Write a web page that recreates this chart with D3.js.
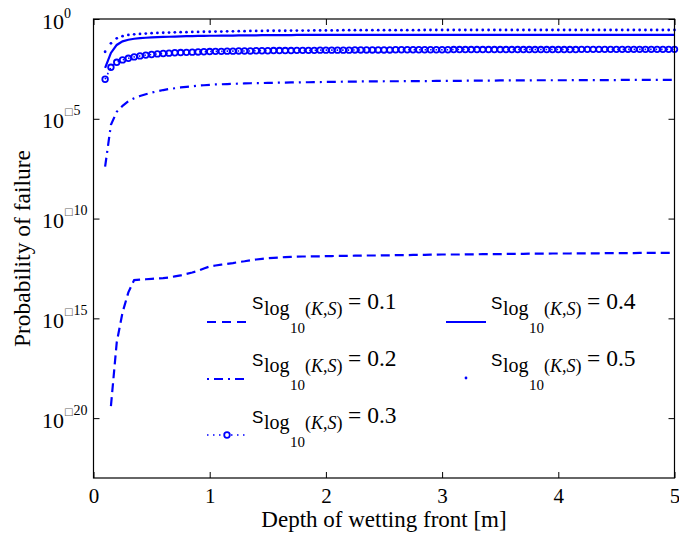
<!DOCTYPE html>
<html>
<head>
<meta charset="utf-8">
<script src="https://cdn.jsdelivr.net/npm/d3@7"></script>
<style>
  html, body { margin: 0; padding: 0; background: #fff; }
  svg { display: block; }
  .serif { font-family: "Liberation Serif", "DejaVu Serif", serif; }
  .sans { font-family: "Liberation Sans", "DejaVu Sans", sans-serif; }
  .glyphbox { font-family: "DejaVu Sans", sans-serif; }
</style>
</head>
<body>
<svg id="chart" width="679" height="537"></svg>
<script>
// Depth grid of the wetting front [m], 0.10 to 5.00 in 0.05 m steps
const depth = d3.range(10, 501, 5).map(v => v / 100);

// log10 of the probability of failure for each standard deviation of log10(K,S)
const logPf01 = [null, -19.4, -16.2, -14.7, -13.7, -13.08, -13.06, -13.04, -13.02, -13.0,
  -12.98, -12.95, -12.9, -12.85, -12.77, -12.7, -12.62, -12.5, -12.4, -12.35,
  -12.31, -12.27, -12.23, -12.18, -12.14, -12.09, -12.05, -12.02, -11.99, -11.97,
  -11.95, -11.93, -11.92, -11.91, -11.9, -11.9, -11.89, -11.89, -11.88, -11.88,
  -11.87, -11.87, -11.87, -11.86, -11.86, -11.85, -11.85, -11.85, -11.84, -11.84,
  -11.83, -11.83, -11.83, -11.82, -11.82, -11.82, -11.81, -11.81, -11.8, -11.8,
  -11.8, -11.8, -11.79, -11.79, -11.79, -11.78, -11.78, -11.78, -11.78, -11.77,
  -11.77, -11.77, -11.77, -11.76, -11.76, -11.76, -11.76, -11.75, -11.75, -11.75,
  -11.75, -11.74, -11.74, -11.74, -11.74, -11.74, -11.73, -11.73, -11.73, -11.73,
  -11.73, -11.73, -11.72, -11.72, -11.72, -11.72, -11.72, -11.72, -11.72];

const logPf02 = [-7.4, -5.3, -4.65, -4.35, -4.12, -3.97, -3.86, -3.77, -3.69, -3.62,
  -3.56, -3.51, -3.47, -3.43, -3.4, -3.37, -3.34, -3.32, -3.3, -3.28,
  -3.27, -3.26, -3.25, -3.24, -3.23, -3.22, -3.21, -3.21, -3.2, -3.2,
  -3.19, -3.19, -3.18, -3.18, -3.17, -3.17, -3.16, -3.16, -3.15, -3.15,
  -3.15, -3.14, -3.14, -3.14, -3.13, -3.13, -3.13, -3.13, -3.12, -3.12,
  -3.12, -3.12, -3.11, -3.11, -3.11, -3.11, -3.11, -3.1, -3.1, -3.1,
  -3.1, -3.1, -3.09, -3.09, -3.09, -3.09, -3.09, -3.09, -3.08, -3.08,
  -3.08, -3.08, -3.08, -3.08, -3.07, -3.07, -3.07, -3.07, -3.07, -3.07,
  -3.07, -3.06, -3.06, -3.06, -3.06, -3.06, -3.06, -3.06, -3.06, -3.05,
  -3.05, -3.05, -3.05, -3.05, -3.05, -3.05, -3.05, -3.05, -3.05];

const logPf03 = [-3.02, -2.42, -2.17, -2.05, -1.97, -1.9, -1.85, -1.81, -1.78, -1.75,
  -1.73, -1.71, -1.69, -1.68, -1.67, -1.66, -1.65, -1.64, -1.63, -1.62,
  -1.62, -1.61, -1.61, -1.6, -1.6, -1.6, -1.59, -1.59, -1.59, -1.58,
  -1.58, -1.58, -1.58, -1.57, -1.57, -1.57, -1.57, -1.56, -1.56, -1.56,
  -1.56, -1.56, -1.56, -1.55, -1.55, -1.55, -1.55, -1.55, -1.55, -1.55,
  -1.54, -1.54, -1.54, -1.54, -1.54, -1.54, -1.54, -1.54, -1.54, -1.54,
  -1.53, -1.53, -1.53, -1.53, -1.53, -1.53, -1.53, -1.53, -1.53, -1.53,
  -1.53, -1.53, -1.53, -1.53, -1.53, -1.53, -1.53, -1.53, -1.53, -1.53,
  -1.53, -1.53, -1.52, -1.52, -1.52, -1.52, -1.52, -1.52, -1.52, -1.52,
  -1.52, -1.52, -1.52, -1.52, -1.52, -1.52, -1.52, -1.52, -1.52];

const logPf04 = [-2.45, -1.7, -1.3, -1.12, -1.04, -0.99, -0.96, -0.94, -0.92, -0.91,
  -0.9, -0.89, -0.88, -0.87, -0.86, -0.86, -0.85, -0.85, -0.84, -0.84,
  -0.83, -0.83, -0.83, -0.82, -0.82, -0.82, -0.82, -0.81, -0.81, -0.81,
  -0.81, -0.81, -0.81, -0.8, -0.8, -0.8, -0.8, -0.8, -0.8, -0.8,
  -0.8, -0.8, -0.8, -0.8, -0.8, -0.8, -0.8, -0.8, -0.8, -0.8,
  -0.8, -0.8, -0.8, -0.8, -0.8, -0.8, -0.8, -0.8, -0.8, -0.8,
  -0.8, -0.8, -0.8, -0.8, -0.8, -0.8, -0.8, -0.8, -0.8, -0.8,
  -0.8, -0.8, -0.8, -0.8, -0.8, -0.8, -0.8, -0.8, -0.8, -0.8,
  -0.8, -0.8, -0.8, -0.8, -0.8, -0.8, -0.8, -0.8, -0.8, -0.8,
  -0.8, -0.8, -0.8, -0.8, -0.8, -0.8, -0.8, -0.8, -0.8];

const logPf05 = [-1.64, -1.22, -0.97, -0.86, -0.8, -0.77, -0.75, -0.73, -0.71, -0.7,
  -0.69, -0.68, -0.67, -0.66, -0.66, -0.65, -0.65, -0.64, -0.64, -0.63,
  -0.63, -0.62, -0.62, -0.61, -0.61, -0.6, -0.6, -0.6, -0.59, -0.59,
  -0.59, -0.59, -0.58, -0.58, -0.58, -0.58, -0.57, -0.57, -0.57, -0.57,
  -0.57, -0.56, -0.56, -0.56, -0.56, -0.56, -0.56, -0.56, -0.56, -0.56,
  -0.56, -0.56, -0.56, -0.56, -0.56, -0.55, -0.55, -0.55, -0.55, -0.55,
  -0.55, -0.55, -0.55, -0.55, -0.55, -0.55, -0.55, -0.55, -0.55, -0.55,
  -0.55, -0.55, -0.55, -0.55, -0.55, -0.55, -0.55, -0.55, -0.55, -0.55,
  -0.55, -0.55, -0.55, -0.55, -0.55, -0.55, -0.55, -0.55, -0.55, -0.55,
  -0.55, -0.55, -0.55, -0.55, -0.55, -0.55, -0.55, -0.55, -0.55];

const sigmaLabels = ["0.1", "0.2", "0.3", "0.4", "0.5"];
const xTicks = [0, 1, 2, 3, 4, 5];
const yTickExponents = [0, -5, -10, -15, -20];

const BLUE = "#0000ff";

const svg = d3.select("#chart");
const plotLeft = 93.5, plotRight = 674.5, plotTop = 19, plotBottom = 478;

const x = d3.scaleLinear().domain([0, 5]).range([plotLeft, plotRight]);
const y = d3.scaleLog().domain([1e-23, 1]).range([plotBottom, plotTop]);

const toPoints = arr => depth.map((d, i) => ({ d, p: arr[i] == null ? null : Math.pow(10, arr[i]) }));

const line = d3.line()
  .defined(v => v.p != null)
  .x(v => x(v.d))
  .y(v => y(v.p));

svg.append("rect").attr("width", 679).attr("height", 537).attr("fill", "#fff");

// Series
const plot = svg.append("g");

plot.append("path").datum(toPoints(logPf01))
  .attr("d", line).attr("fill", "none").attr("stroke", BLUE)
  .attr("stroke-width", 2.2).attr("stroke-dasharray", "9,5");

plot.append("path").datum(toPoints(logPf02))
  .attr("d", line).attr("fill", "none").attr("stroke", BLUE)
  .attr("stroke-width", 2.2).attr("stroke-dasharray", "9,5,2,5");

plot.append("path").datum(toPoints(logPf03))
  .attr("d", line).attr("fill", "none").attr("stroke", BLUE)
  .attr("stroke-width", 1.6).attr("stroke-dasharray", "1.5,4");

plot.append("g").selectAll("circle").data(toPoints(logPf03)).join("circle")
  .attr("cx", v => x(v.d)).attr("cy", v => y(v.p)).attr("r", 2.8)
  .attr("fill", "none").attr("stroke", BLUE).attr("stroke-width", 1.8);

plot.append("path").datum(toPoints(logPf04))
  .attr("d", line).attr("fill", "none").attr("stroke", BLUE)
  .attr("stroke-width", 2.2);

plot.append("g").selectAll("circle").data(toPoints(logPf05)).join("circle")
  .attr("cx", v => x(v.d)).attr("cy", v => y(v.p)).attr("r", 1.4)
  .attr("fill", BLUE);

// Frame and inward ticks on all sides
svg.append("rect")
  .attr("x", plotLeft).attr("y", plotTop)
  .attr("width", plotRight - plotLeft).attr("height", plotBottom - plotTop)
  .attr("fill", "none").attr("stroke", "#000").attr("stroke-width", 1.2);

function styleAxis(g) {
  g.select(".domain").remove();
  g.attr("font-family", null).attr("font-size", null);
  g.selectAll(".tick line").attr("stroke", "#000").attr("stroke-width", 1);
}

const yTickValues = yTickExponents.map(e => Math.pow(10, e));

svg.append("g").attr("transform", `translate(0,${plotBottom})`)
  .call(d3.axisBottom(x).tickValues(xTicks).tickSizeInner(-6).tickSizeOuter(0).tickFormat(d3.format("d")))
  .call(styleAxis)
  .call(g => g.selectAll(".tick text")
    .attr("class", "serif")
    .attr("y", 24.5).attr("dy", null)
    .style("font-size", "21px").attr("fill", "#000"));

svg.append("g").attr("transform", `translate(0,${plotTop})`)
  .call(d3.axisTop(x).tickValues(xTicks).tickSizeInner(-6).tickSizeOuter(0).tickFormat(""))
  .call(styleAxis);

svg.append("g").attr("transform", `translate(${plotLeft},0)`)
  .call(d3.axisLeft(y).tickValues(yTickValues).tickSizeInner(-6).tickSizeOuter(0).tickFormat(""))
  .call(styleAxis);

svg.append("g").attr("transform", `translate(${plotRight},0)`)
  .call(d3.axisRight(y).tickValues(yTickValues).tickSizeInner(-6).tickSizeOuter(0).tickFormat(""))
  .call(styleAxis);

// Power-of-ten tick labels
const yLabels = svg.append("g");
yTickExponents.forEach(e => {
  const t = yLabels.append("text")
    .attr("class", "serif")
    .attr("x", 42).attr("y", y(Math.pow(10, e)) + 9.5)
    .style("font-size", "22px").attr("fill", "#000");
  t.append("tspan").text("10");
  if (e < 0) {
    t.append("tspan").attr("class", "glyphbox").attr("dy", -13)
      .style("font-size", "10px").attr("fill", "#666").text("\u25A1");
    t.append("tspan").style("font-size", "14px").text(String(-e));
  } else {
    t.append("tspan").attr("dy", -11).style("font-size", "14px").text(String(e));
  }
});

// Axis titles
svg.append("text")
  .attr("class", "serif")
  .attr("transform", `translate(30,${(plotTop + plotBottom) / 2}) rotate(-90)`)
  .attr("text-anchor", "middle")
  .style("font-size", "23.5px").attr("fill", "#000")
  .text("Probability of failure");

svg.append("text")
  .attr("class", "serif")
  .attr("x", (plotLeft + plotRight) / 2).attr("y", 527)
  .attr("text-anchor", "middle")
  .style("font-size", "23px").attr("fill", "#000")
  .text("Depth of wetting front [m]");

// Legend
const legendPos = [
  { col: 207, base: 309 },
  { col: 207, base: 366 },
  { col: 207, base: 423 },
  { col: 446, base: 309 },
  { col: 446, base: 366 }
];
const legend = svg.append("g");
const sampleLen = 40;

legendPos.forEach((pos, i) => {
  const ly = pos.base + 13;
  const x0 = pos.col, x1 = pos.col + sampleLen;
  if (i === 0) {
    legend.append("line").attr("x1", x0).attr("x2", x1).attr("y1", ly).attr("y2", ly)
      .attr("stroke", BLUE).attr("stroke-width", 2.2).attr("stroke-dasharray", "9,6");
  } else if (i === 1) {
    legend.append("line").attr("x1", x0).attr("x2", x1).attr("y1", ly).attr("y2", ly)
      .attr("stroke", BLUE).attr("stroke-width", 2.2).attr("stroke-dasharray", "2,5,9,5");
  } else if (i === 2) {
    legend.append("line").attr("x1", x0).attr("x2", x1).attr("y1", ly - 1).attr("y2", ly - 1)
      .attr("stroke", BLUE).attr("stroke-width", 1.6).attr("stroke-dasharray", "1.5,4.5");
    legend.append("circle").attr("cx", (x0 + x1) / 2).attr("cy", ly - 1).attr("r", 2.8)
      .attr("fill", "#fff").attr("stroke", BLUE).attr("stroke-width", 1.8);
  } else if (i === 3) {
    legend.append("line").attr("x1", x0).attr("x2", x1).attr("y1", ly).attr("y2", ly)
      .attr("stroke", BLUE).attr("stroke-width", 2.2);
  } else {
    legend.append("circle").attr("cx", (x0 + x1) / 2).attr("cy", ly - 1).attr("r", 1.4)
      .attr("fill", BLUE);
  }

  const tx = x1 + 5;
  const t = legend.append("text")
    .attr("class", "serif")
    .attr("x", tx).attr("y", pos.base)
    .style("font-size", "23.5px").attr("fill", "#000");
  t.append("tspan").attr("class", "sans").style("font-size", "17px").text("S");
  t.append("tspan").attr("x", tx + 12).attr("dy", 6).style("font-size", "20px").text("log");
  t.append("tspan").attr("x", tx + 38).attr("dy", 18).style("font-size", "15px").text("10");
  t.append("tspan").attr("x", tx + 53).attr("dy", -18).style("font-size", "18px").text("(");
  t.append("tspan").style("font-size", "18px").style("font-style", "italic").text("K");
  t.append("tspan").style("font-size", "18px").text(",");
  t.append("tspan").style("font-size", "18px").style("font-style", "italic").text("S");
  t.append("tspan").style("font-size", "18px").text(")");
  t.append("tspan").attr("x", tx + 96).attr("dy", -6).text("= " + sigmaLabels[i]);
});
</script>
</body>
</html>
